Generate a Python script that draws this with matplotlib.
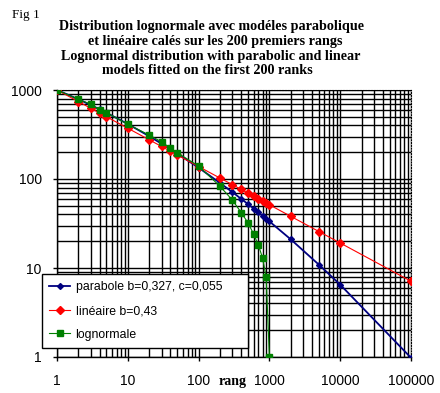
import matplotlib
matplotlib.use("Agg")
import matplotlib.pyplot as plt
from matplotlib.ticker import NullFormatter, LogLocator

# rangs
rangs = [1, 2, 3, 4, 5, 10, 20, 30, 40, 50, 100, 200, 300, 400, 500,
         600, 700, 800, 900, 1000, 2000, 5000, 10000, 100000]
# modele parabolique (b=0,327 c=0,055)
parabole = [1000, 788, 678, 607, 555, 415, 303, 249, 216, 193, 134, 90.4,
            71.2, 59.8, 52.1, 46.5, 42.1, 38.7, 35.8, 33.4, 21.0, 10.9,
            6.5, 0.98]
# modele lineaire (b=0,43)
lineaire = [1000, 742, 623, 551, 500, 372, 276, 232, 205, 186, 138, 102.6,
            86.4, 76.3, 69.2, 64.1, 59.8, 56.4, 53.8, 51.3, 38.1, 25.7,
            19.1, 7.1]
# lognormale (jusqu'au rang 1000)
rangs_ln = [1, 2, 3, 4, 5, 10, 20, 30, 40, 50, 100, 200, 300, 400, 500,
            600, 700, 800, 900, 1000]
lognormale = [1000, 786, 692, 596, 556, 412, 312, 261, 223, 197, 140, 83,
              58, 42, 32, 24, 18, 13, 7.9, 1.0]

xticks = [1, 10, 100, 1000, 10000, 100000]
yticks = [1, 10, 100, 1000]

W, H = 440, 393
fig = plt.figure(figsize=(W / 100, H / 100), dpi=100)
ax = fig.add_axes([57 / W, 1 - 357 / H, 354 / W, 267 / H])

ax.plot(rangs, parabole, color="#000080", lw=1.3, marker="D", ms=3.0,
        label="parabole b=0,327, c=0,055", zorder=3)
ax.plot(rangs, lineaire, color="#ff0000", lw=0.8, marker="D", ms=3.6,
        label="linéaire b=0,43", zorder=4)
ax.plot(rangs_ln, lognormale, color="#008000", lw=0.8, marker="s", ms=4.8,
        label="lognormale", zorder=5)

ax.set_xscale("log")
ax.set_yscale("log")
ax.set_xlim(1, 100000)
ax.set_ylim(1, 1000)

ax.xaxis.set_minor_locator(LogLocator(base=10, subs=range(2, 10), numticks=20))
ax.yaxis.set_minor_locator(LogLocator(base=10, subs=range(2, 10), numticks=20))
ax.xaxis.set_minor_formatter(NullFormatter())
ax.yaxis.set_minor_formatter(NullFormatter())
ax.set_xticks(xticks, [str(v) for v in xticks])
ax.set_yticks(yticks, [str(v) for v in yticks])

ax.grid(True, which="both", color="black", lw=1.0)
ax.set_axisbelow(True)

ax.tick_params(which="major", direction="out", length=3, width=1.0,
               labelsize=10, colors="black")
ax.tick_params(axis="y", which="major", pad=8)
ax.tick_params(axis="x", which="major", pad=9)
ax.tick_params(which="minor", length=0)
for lab in ax.get_xticklabels() + ax.get_yticklabels():
    lab.set_family("Liberation Sans")

for s in ["top", "right"]:
    ax.spines[s].set_linestyle((0, (1, 1.5)))
    ax.spines[s].set_linewidth(0.8)
for s in ["left", "bottom"]:
    ax.spines[s].set_linewidth(1.0)

leg = ax.legend(loc="lower left", bbox_to_anchor=(42 / W, 1 - 348 / H, 206 / W, 74 / H),
                bbox_transform=fig.transFigure, mode="expand", borderaxespad=0,
                prop={"family": "Liberation Sans", "size": 8.8},
                frameon=True, fancybox=False, framealpha=1, edgecolor="black",
                handlelength=1.7, handletextpad=0.45, labelspacing=0.95,
                borderpad=0.6)
leg.get_frame().set_linewidth(1.0)
leg.set_zorder(10)

fig.text(12 / W, 1 - 15 / H, "Fig 1", family="Liberation Serif", fontsize=9.5,
         ha="left", va="center")
titres = ["Distribution lognormale avec modéles parabolique",
          "et linéaire calés sur les 200 premiers rangs",
          "Lognormal distribution with parabolic and linear",
          "models fitted on the first 200 ranks"]
centres_x = [211, 215, 211, 207.5]
for i, t in enumerate(titres):
    fig.text(centres_x[i] / W, 1 - (26.7 + 14.7 * i) / H, t,
             family="Liberation Serif", weight="bold", fontsize=10.2,
             ha="center", va="center")

fig.text(233 / W, 1 - 382 / H, "rang", family="Liberation Serif",
         weight="bold", fontsize=10, ha="center", va="center")

fig.savefig("out.png", dpi=100)
